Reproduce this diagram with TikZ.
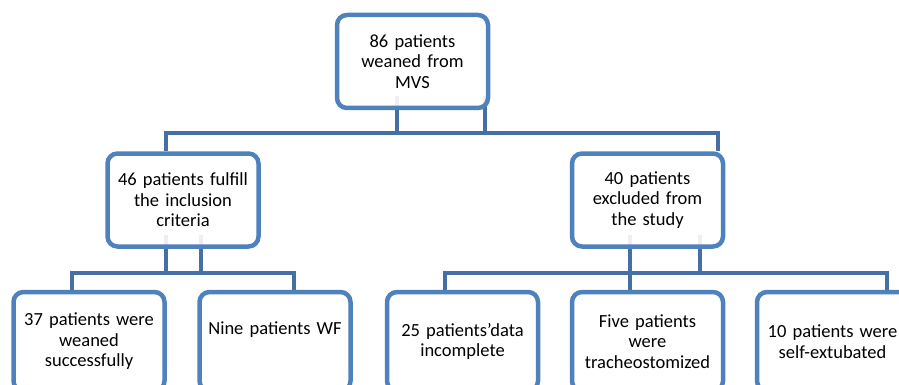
\documentclass[tikz,border=0pt]{standalone}
\usepackage{fontspec}
\setmainfont{Carlito}
\usetikzlibrary{positioning, backgrounds}
\definecolor{boxblue}{HTML}{4F81BD}
\definecolor{linkblue}{HTML}{4470A6}

\begin{document}
\begin{tikzpicture}[x=1pt, y=1pt]
	\tikzset{
		box/.style={rectangle, rounded corners=10pt, draw=boxblue, line width=4.5pt, fill=white, fill opacity=0.9, text opacity=1, minimum width=151pt, minimum height=93pt, text width=150pt, align=center, inner sep=0pt, font=\fontsize{18.5}{20.5}\selectfont},
		leaf/.style={box, minimum height=99pt},
		conn/.style={draw=linkblue, line width=4pt}
	}
	\useasboundingbox (0,0) rectangle (899,-385);
	\clip (0,0) rectangle (899,-385);

	\node[box] (root) at (412.5,-61.5) {86 patients\\weaned from\\MVS};
	\node[box, below=41pt of root, xshift=-229.5pt] (incl) {46 patients fulfill\\the inclusion\\criteria};
	\node[box, below=41pt of root, xshift=235pt] (excl) {40 patients\\excluded from\\the study};

	\node[leaf, below=41pt of incl, xshift=-94pt] (succ) {37 patients were\\weaned\\successfully};
	\node[leaf, below=41pt of incl, xshift=92pt] (wf) {Nine patients WF\\\strut};
	\node[leaf, below=41pt of excl, xshift=-185pt] (data) {25 patients’data\\incomplete};
	\node[leaf, below=41pt of excl] (trach) {Five patients\\were\\tracheostomized};
	\node[leaf, below=41pt of excl, xshift=185pt] (self) {10 patients were\\self-extubated};

	\coordinate (bus1) at (440,-133);
	\coordinate (bus2) at (183,-273);
	\coordinate (bus3) at (665,-273);

	\begin{scope}[on background layer]
		\draw[conn] ([xshift=-16pt, yshift=14pt]root.south) |- (bus1) -| ([xshift=-17pt]incl.north);
		\draw[conn] ([xshift=72pt, yshift=14pt]root.south) |- (bus1) -| ([xshift=70pt]excl.north);

		\draw[conn] ([xshift=-17pt, yshift=14pt]incl.south) |- (bus2) -| ([xshift=-17pt]succ.north);
		\draw[conn] ([xshift=18pt, yshift=14pt]incl.south) |- (bus2) -| ([xshift=19pt]wf.north);

		\draw[conn] ([xshift=-17.5pt, yshift=14pt]excl.south) |- (bus3) -| ([xshift=-17.5pt]data.north);
		\draw[conn] ([xshift=-17.5pt, yshift=14pt]excl.south) -- ([xshift=-17.5pt]trach.north);
		\draw[conn] ([xshift=52.5pt, yshift=14pt]excl.south) |- (bus3) -| ([xshift=54.5pt]self.north);
	\end{scope}
\end{tikzpicture}
\end{document}
